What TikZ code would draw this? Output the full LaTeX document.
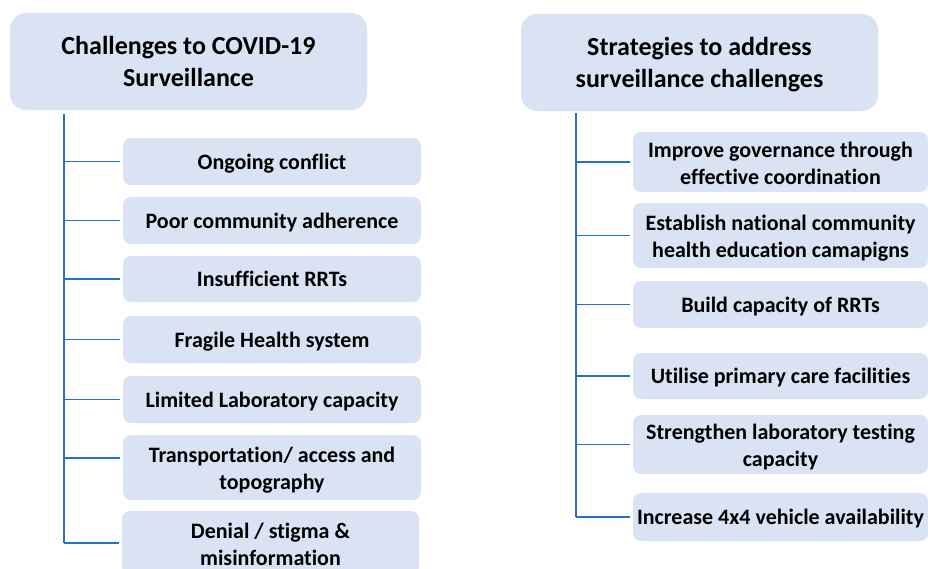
\documentclass[tikz,border=0pt]{standalone}
\usepackage{fontspec}
\setmainfont{Carlito}[Ligatures=NoCommon]
\definecolor{boxfill}{RGB}{218,227,243}
\definecolor{linkblue}{RGB}{36,114,198}
% invisible struts that fix the height and depth of a text block
\newcommand\linetop{\rule{0pt}{21pt}}
\newcommand\pairtop{\rule{0pt}{23pt}}
\newcommand\linebot{\rule[-6pt]{0pt}{0pt}}
\newcommand\headtop{\rule{0pt}{25pt}}
\newcommand\headbot{\rule[-7pt]{0pt}{0pt}}
\begin{document}
\begin{tikzpicture}[x=1pt,y=-1pt,
  titlebox/.style={fill=boxfill, rounded corners=16pt, align=center,
    font=\fontsize{26}{32}\selectfont\bfseries, inner sep=0pt,
    minimum width=357pt, minimum height=97pt},
  itembox/.style={fill=boxfill, rounded corners=8pt, align=center,
    font=\fontsize{22}{27}\selectfont\bfseries, inner sep=0pt},
  spine/.style={draw=linkblue, line width=1.8pt},
  branch/.style={draw=linkblue, line width=1.3pt, shorten >=2.5pt},
]
\useasboundingbox (0,0) rectangle (928,568);
\clip (0,0) rectangle (928,568);

% headings
\node[titlebox] (ltitle) at (188.5,61.5) {\headtop Challenges to COVID-19\\Surveillance\headbot};
\node[titlebox] (rtitle) at (699.5,62.5) {\headtop Strategies to address\\surveillance challenges\headbot};

% challenges
\begin{scope}[every node/.style={itembox, minimum width=298pt}]
\node[minimum height=47pt] (c1) at (272,161.5) {\linetop Ongoing conflict\linebot};
\node[minimum height=47pt] (c2) at (272,220.5) {\linetop Poor community adherence\linebot};
\node[minimum height=46pt] (c3) at (272,279) {\linetop Insufficient RRTs\linebot};
\node[minimum height=47pt] (c4) at (272,339.5) {\linetop Fragile Health system\linebot};
\node[minimum height=47pt] (c5) at (272,399.5) {\linetop Limited Laboratory capacity\linebot};
\node[minimum height=65pt] (c6) at (272,467.5) {\pairtop Transportation/ access and\\topography\linebot};
\node[minimum height=64pt, minimum width=297pt] (c7) at (270.5,543) {\pairtop Denial / stigma \&\\misinformation\linebot};
\end{scope}

% strategies
\begin{scope}[every node/.style={itembox, minimum width=295pt}]
\node[minimum height=60pt] (s1) at (780.5,162) {\pairtop Improve governance through\\effective coordination\linebot};
\node[minimum height=65pt] (s2) at (780.5,235.5) {\pairtop Establish national community\\health education camapigns\linebot};
\node[minimum height=47pt] (s3) at (780.5,304.5) {\linetop Build capacity of RRTs\linebot};
\node[minimum height=46pt] (s4) at (780.5,376) {\linetop Utilise primary care facilities\linebot};
\node[minimum height=59pt] (s5) at (780.5,444.5) {\pairtop Strengthen laboratory testing\\capacity\linebot};
\node[minimum height=48pt] (s6) at (780.5,517) {\linetop Increase 4x4 vehicle availability\linebot};
\end{scope}

% connectors
\coordinate (lroot) at (64,114);
\coordinate (rroot) at (576,113);
\coordinate (c6in) at ([yshift=9.5pt]c6.west);
\draw[spine] (lroot) -- (lroot |- c7.west);
\draw[spine] (rroot) -- (rroot |- s6.west);
\foreach \n in {c1,c2,c3,c4,c5,c6in,c7}
  \draw[branch] (lroot |- \n) -- (\n);
\foreach \n in {s1,s2,s3,s4,s5,s6}
  \draw[branch] (rroot |- \n.west) -- (\n.west);
\end{tikzpicture}
\end{document}
